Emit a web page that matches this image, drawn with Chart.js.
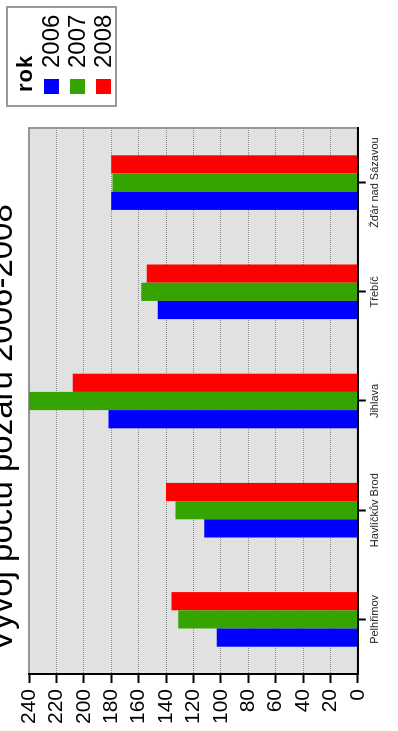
<!DOCTYPE html>
<html>
<head>
<meta charset="utf-8">
<script src="https://cdn.jsdelivr.net/npm/chart.js@4"></script>
<style>
    html, body { margin: 0; padding: 0; background: #fff; overflow: hidden; }
    /* chart is laid out landscape and turned a quarter left, like the scan */
    #wrap {
        position: absolute; left: 0; top: 0;
        width: 731px; height: 398px;
        transform-origin: 0 0;
        transform: translateY(731px) rotate(-90deg);
        font-family: "Liberation Sans", Arial, sans-serif;
        color: #000;
    }
    #chart { position: absolute; left: 0; top: 0; }
    #title {
        position: absolute; left: 0; top: -16px; width: 606px;
        text-align: center; font-size: 33px; line-height: 33px; white-space: nowrap;
    }
    #legend {
        position: absolute; left: 624px; top: 6px;
        width: 97px; height: 103px;
        border: 2px solid #999; box-sizing: content-box;
        padding-top: 4px;
    }
    #legend .head { font-weight: bold; font-size: 22px; line-height: 26px; padding-left: 13px; letter-spacing: 1px; }
    #legend .row { display: flex; align-items: center; height: 26px; padding-left: 11px; font-size: 24px; }
    #legend .box { width: 15px; height: 15px; margin-right: 11px; }
</style>
</head>
<body>
<div id="wrap">
    <canvas id="chart" width="731" height="398"></canvas>
    <div id="title"></div>
    <div id="legend"></div>
</div>
<script>
const chartTitle = 'Vývoj počtu požárů 2006-2008';
const legendTitle = 'rok';
const cities = ['Pelhřimov', 'Havlíčkův Brod', 'Jihlava', 'Třebíč', 'Žďár nad Sázavou'];
const years = ['2006', '2007', '2008'];
const fires2006 = [103, 112, 182, 146, 180];
const fires2007 = [131, 133, 240, 158, 179];
const fires2008 = [136, 140, 208, 154, 180];
const yearColors = ['#0000ff', '#36a400', '#ff0000'];
const yMax = 240;
const yStep = 20;

Chart.defaults.font.family = '"Liberation Sans", Arial, sans-serif';
Chart.defaults.color = '#000';

document.getElementById('title').textContent = chartTitle;

const legend = document.getElementById('legend');
legend.innerHTML = '<div class="head">' + legendTitle + '</div>' +
    years.map((y, i) => '<div class="row"><span class="box" style="background:' + yearColors[i] + '"></span>' + y + '</div>').join('');

const plotBackground = {
    id: 'plotBackground',
    beforeDraw(chart) {
        const { ctx, chartArea: a } = chart;
        ctx.save();
        ctx.fillStyle = '#e1e1e1';
        ctx.fillRect(a.left, a.top, a.width, a.height);
        ctx.strokeStyle = '#999';
        ctx.lineWidth = 2;
        ctx.strokeRect(a.left, a.top, a.width, a.height);
        ctx.restore();
    }
};

const series = [fires2006, fires2007, fires2008];

new Chart(document.getElementById('chart').getContext('2d'), {
    type: 'bar',
    data: {
        labels: cities,
        datasets: series.map((data, i) => ({
            label: years[i],
            data,
            backgroundColor: yearColors[i],
            borderWidth: 0
        }))
    },
    options: {
        responsive: false,
        animation: false,
        categoryPercentage: 0.5,
        barPercentage: 1.0,
        layout: { padding: { top: 29, right: 128, bottom: 13, left: 0 } },
        plugins: {
            legend: { display: false },
            tooltip: { enabled: false }
        },
        scales: {
            x: {
                offset: true,
                grid: { drawOnChartArea: false, offset: false, tickLength: 8, tickColor: '#000', tickWidth: 2 },
                border: { color: '#000', width: 2 },
                ticks: { font: { size: 11 }, color: '#222', maxRotation: 0, padding: 3 }
            },
            y: {
                min: 0,
                max: yMax,
                afterFit(scale) { scale.width = 57; },
                grid: { color: '#8a8a8a', lineWidth: 1, tickLength: 9, tickColor: '#000', tickWidth: 2, tickBorderDash: [] },
                border: { color: '#000', width: 2, dash: [1, 1] },
                ticks: { stepSize: yStep, autoSkip: false, font: { size: 21 }, padding: 6 }
            }
        }
    },
    plugins: [plotBackground]
});
</script>
</body>
</html>
